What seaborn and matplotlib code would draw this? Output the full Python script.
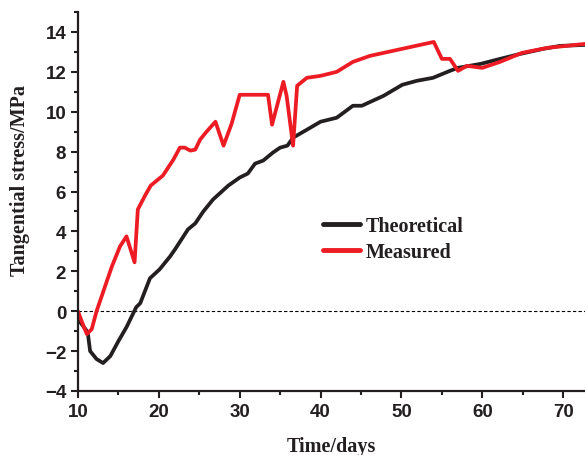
import pandas as pd
import matplotlib
matplotlib.use("Agg")
import matplotlib.pyplot as plt
import seaborn as sns
from matplotlib.ticker import MultipleLocator

# values
theo_days = [10, 11.2, 11.5, 12.3, 13.1, 14, 15, 16, 17.2, 17.7, 18.9, 20.1, 21.4,
             22, 23.6, 24.5, 25.5, 26.7, 28.6, 30, 31, 31.9, 32.9, 34.1, 35, 35.9,
             36.6, 38.1, 40, 42, 44, 45.1, 47.8, 50.1, 51.9, 53.9, 56, 57, 59.8,
             62.2, 64.7, 67.5, 69.6, 72.7]
theo_stress = [-0.4, -1.05, -2.0, -2.4, -2.6, -2.25, -1.5, -0.8, 0.2, 0.4, 1.65,
               2.1, 2.75, 3.1, 4.1, 4.4, 5.0, 5.6, 6.3, 6.7, 6.9, 7.4, 7.55, 7.95,
               8.2, 8.3, 8.7, 9.05, 9.5, 9.7, 10.3, 10.3, 10.8, 11.35, 11.55,
               11.7, 12.05, 12.2, 12.4, 12.65, 12.9, 13.15, 13.3, 13.35]

meas_days = [10, 10.5, 11.1, 11.7, 12.3, 13.1, 14.2, 15.2, 16.0, 17.0, 17.4, 18.3,
             19.0, 20.5, 21.8, 22.6, 23.2, 23.9, 24.5, 25.1, 25.9, 27, 28, 29, 30,
             33.5, 34, 35.4, 35.8, 36.6, 37.1, 38.3, 40, 42, 44, 46.1, 54, 55, 56,
             57, 58.1, 60, 62.2, 64.9, 68, 72.7]
meas_stress = [0, -0.55, -1.15, -0.9, 0, 0.95, 2.25, 3.25, 3.75, 2.45, 5.1, 5.8,
               6.3, 6.8, 7.6, 8.2, 8.2, 8.05, 8.1, 8.6, 9.0, 9.5, 8.3, 9.4, 10.85,
               10.85, 9.35, 11.5, 10.8, 8.3, 11.3, 11.7, 11.8, 12.0, 12.5, 12.8,
               13.5, 12.65, 12.65, 12.05, 12.3, 12.2, 12.5, 12.95, 13.2, 13.4]

df = pd.concat([
    pd.DataFrame({"day": theo_days, "stress": theo_stress, "series": "Theoretical"}),
    pd.DataFrame({"day": meas_days, "stress": meas_stress, "series": "Measured"}),
])

sns.set_style("ticks")
plt.rcParams["font.family"] = ["Liberation Sans", "DejaVu Sans"]

fig = plt.figure(figsize=(5.85, 4.56), dpi=100)
ax = fig.add_axes([0.1333, 0.1404, 0.8667, 0.8311])

sns.lineplot(data=df, x="day", y="stress", hue="series", estimator=None, sort=False,
             palette={"Theoretical": "#231F20", "Measured": "#ED1C24"},
             linewidth=2.7, ax=ax)

ax.axhline(0, color="black", linestyle=(0, (3, 2)), linewidth=0.8, zorder=0)

ax.set_xlim(10, 72.7)
ax.set_ylim(-4, 15)
ax.xaxis.set_major_locator(MultipleLocator(10))
ax.xaxis.set_minor_locator(MultipleLocator(5))
ax.yaxis.set_minor_locator(MultipleLocator(1))
ax.set_yticks([-4, -2, 0, 2, 4, 6, 8, 10, 12, 14])

for s in ["top", "right"]:
    ax.spines[s].set_visible(False)
for s in ["left", "bottom"]:
    ax.spines[s].set_linewidth(1.6)
    ax.spines[s].set_color("#231F20")

ax.tick_params(which="major", length=5, width=1.5, labelsize=13.5, color="#231F20",
               labelcolor="#231F20")
ax.tick_params(which="minor", length=3, width=1.5, color="#231F20")
for lab in ax.get_xticklabels() + ax.get_yticklabels():
    lab.set_fontweight("bold")

serif = ["Liberation Serif", "DejaVu Serif"]
ax.set_xlabel("Time/days", family=serif, fontsize=14.5, fontweight="bold",
              color="#231F20", labelpad=12)
ax.set_ylabel("Tangential stress/MPa", family=serif, fontsize=14.5, fontweight="bold",
              color="#231F20")
ax.yaxis.set_label_coords(-0.094, 0.557)

leg = ax.legend(loc="upper left", bbox_to_anchor=(0.483, 0.462), frameon=False,
                borderaxespad=0, borderpad=0, handlelength=1.85, handletextpad=0.3,
                labelspacing=0.3, prop={"family": serif, "size": 14.5, "weight": "bold"})
for t in leg.get_texts():
    t.set_color("#231F20")
for h in leg.get_lines():
    h.set_linewidth(3.5)

fig.savefig("out.png", dpi=100)
